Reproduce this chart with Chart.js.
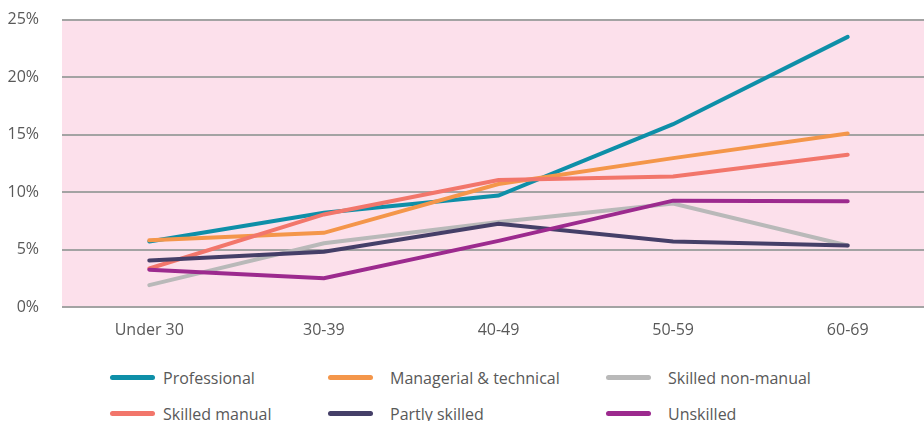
<!DOCTYPE html>
<html>
<head>
<meta charset="utf-8">
<script src="https://cdn.jsdelivr.net/npm/chart.js@4/dist/chart.umd.min.js"></script>
<style>
    html, body { margin: 0; padding: 0; background: #fff; overflow: hidden; width: 924px; height: 421px; }
    #wrap { position: absolute; left: -12px; top: -13px; width: 950px; height: 358px; }
    .leg { position: absolute; font-family: "Open Sans", sans-serif; font-size: 16px; color: #595959; white-space: nowrap; }
    .leg .swatch { position: absolute; width: 45px; height: 5px; border-radius: 3px; }
    .leg .txt { position: absolute; line-height: 20px; }
</style>
</head>
<body>
<div id="wrap"><canvas id="chart"></canvas></div>
<div id="legend"></div>
<script>
const categories = ['Under 30', '30-39', '40-49', '50-59', '60-69'];
const seriesNames = ['Professional', 'Managerial & technical', 'Skilled non-manual', 'Skilled manual', 'Partly skilled', 'Unskilled'];
const professional = [5.7, 8.2, 9.7, 15.9, 23.5];
const managerial = [5.8, 6.45, 10.7, 12.95, 15.1];
const skilledNonManual = [1.9, 5.55, 7.4, 9.0, 5.35];
const skilledManual = [3.35, 8.05, 11.05, 11.35, 13.25];
const partlySkilled = [4.05, 4.8, 7.25, 5.7, 5.35];
const unskilled = [3.25, 2.5, 5.75, 9.25, 9.2];
const yTicks = [0, 5, 10, 15, 20, 25];
const colors = ['#0e8fa8', '#f4964a', '#b9b9b9', '#f2766b', '#453f68', '#9c2a8e'];

const allSeries = [professional, managerial, skilledNonManual, skilledManual, partlySkilled, unskilled];

// pink plot background
const plotBg = {
    id: 'plotBg',
    beforeDraw: (chart) => {
        const a = chart.chartArea;
        const ctx = chart.ctx;
        ctx.save();
        ctx.fillStyle = '#fce0eb';
        ctx.fillRect(a.left, a.top, a.right - a.left, a.bottom - a.top);
        ctx.restore();
    }
};

const ctx = document.getElementById('chart').getContext('2d');
new Chart(ctx, {
    type: 'line',
    data: {
        labels: categories,
        datasets: allSeries.map((vals, i) => ({
            label: seriesNames[i],
            data: vals,
            borderColor: colors[i],
            backgroundColor: colors[i],
            borderWidth: 4,
            borderCapStyle: 'round',
            pointRadius: 0,
            tension: 0,
            fill: false,
            order: allSeries.length - i
        }))
    },
    options: {
        responsive: true,
        maintainAspectRatio: false,
        animation: false,
        layout: { padding: { top: 8, right: 3, left: 0, bottom: 0 } },
        plugins: { legend: { display: false }, tooltip: { enabled: false } },
        scales: {
            x: {
                offset: true,
                grid: { display: false },
                border: { display: false },
                afterFit: (s) => { s.height = 38; },
                ticks: { color: '#595959', font: { family: 'Open Sans', size: 16 }, padding: 6, maxRotation: 0 }
            },
            y: {
                min: 0, max: 25,
                afterFit: (s) => { s.width = 74; },
                afterBuildTicks: (s) => { s.ticks = yTicks.map(v => ({ value: v })); },
                grid: { color: '#a3a3a3', lineWidth: 2, drawTicks: false },
                border: { display: false },
                ticks: {
                    color: '#595959', font: { family: 'Open Sans', size: 16 }, padding: 23,
                    callback: (v) => v + '%'
                }
            }
        }
    },
    plugins: [plotBg]
});

// legend in three columns, two rows
const legCols = [110, 328, 606];
const legRows = [378, 414];
const legend = document.getElementById('legend');
legend.innerHTML = seriesNames.map((name, i) => {
    const x = legCols[i % 3];
    const y = legRows[Math.floor(i / 3)];
    return `<div class="leg" style="left:${x}px;top:${y}px">
        <div class="swatch" style="left:0;top:-3px;background:${colors[i]}"></div>
        <div class="txt" style="left:${i % 3 === 0 ? 53 : 62}px;top:-10px">${name}</div>
    </div>`;
}).join('');
</script>
</body>
</html>
